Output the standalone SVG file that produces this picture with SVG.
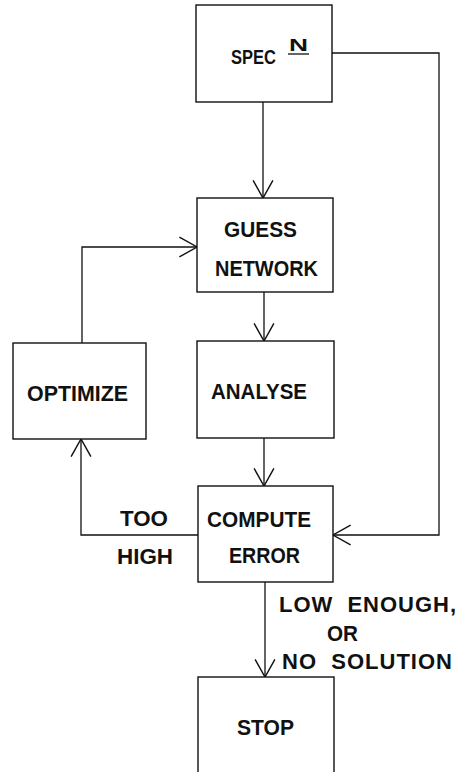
<svg xmlns="http://www.w3.org/2000/svg" width="463" height="772" viewBox="0 0 463 772">
<style>
.box{fill:#fff;stroke:#111;stroke-width:1.4}
.ln{fill:none;stroke:#111;stroke-width:1.3}
text{font-family:"Liberation Sans",Arial,sans-serif;font-weight:bold;font-size:22px;fill:#111}
.big{font-size:20.5px}
.sup{font-size:17px}
</style>
<defs>
<marker id="arr" markerUnits="userSpaceOnUse" markerWidth="20" markerHeight="22" viewBox="-17 -10 18 20" refX="0" refY="0" orient="auto" overflow="visible">
<path d="M-16,-9 L0,0 L-16,9" fill="none" stroke="#111" stroke-width="1.3"/>
</marker>
</defs>
<rect width="463" height="772" fill="#fff"/>
<g id="connectors">
<path class="ln" d="M263,102 V198" marker-end="url(#arr)"/>
<path class="ln" d="M332,53 H439 V535 H333" marker-end="url(#arr)"/>
<path class="ln" d="M264,292 V341" marker-end="url(#arr)"/>
<path class="ln" d="M264,438 V486" marker-end="url(#arr)"/>
<path class="ln" d="M198,535 H81 V439" marker-end="url(#arr)"/>
<path class="ln" d="M82,343 V247 H197" marker-end="url(#arr)"/>
<path class="ln" d="M265,582 V677" marker-end="url(#arr)"/>
</g>
<g id="spec">
<rect class="box" x="196" y="5" width="136" height="97"/>
<text class="big" x="231" y="64" textLength="45" lengthAdjust="spacingAndGlyphs">SPEC</text>
<text class="sup" x="289" y="51" textLength="19" lengthAdjust="spacingAndGlyphs">N</text>
<line class="ln" x1="288" y1="54" x2="309" y2="54"/>
</g>
<g id="guess">
<rect class="box" x="197" y="198" width="136" height="94"/>
<text x="224" y="237" textLength="73" lengthAdjust="spacingAndGlyphs">GUESS</text>
<text x="215" y="276" textLength="103" lengthAdjust="spacingAndGlyphs">NETWORK</text>
</g>
<g id="optimize">
<rect class="box" x="13" y="343" width="133" height="96"/>
<text x="27" y="401" textLength="101" lengthAdjust="spacingAndGlyphs">OPTIMIZE</text>
</g>
<g id="analyse">
<rect class="box" x="197" y="341" width="137" height="97"/>
<text x="211" y="399" textLength="96" lengthAdjust="spacingAndGlyphs">ANALYSE</text>
</g>
<g id="compute">
<rect class="box" x="198" y="486" width="135" height="96"/>
<text x="207" y="527" textLength="104" lengthAdjust="spacingAndGlyphs">COMPUTE</text>
<text x="229" y="563" textLength="71" lengthAdjust="spacingAndGlyphs">ERROR</text>
</g>
<g id="stop">
<rect class="box" x="198" y="677" width="136" height="120"/>
<text x="237" y="735" textLength="57" lengthAdjust="spacingAndGlyphs">STOP</text>
</g>
<g id="labels">
<text x="120" y="526" textLength="48" lengthAdjust="spacingAndGlyphs">TOO</text>
<text x="117" y="564" textLength="56" lengthAdjust="spacingAndGlyphs">HIGH</text>
<text x="279" y="612" textLength="177" lengthAdjust="spacing" xml:space="preserve">LOW  ENOUGH,</text>
<text x="327" y="641" textLength="31" lengthAdjust="spacingAndGlyphs">OR</text>
<text x="282" y="669" textLength="170" lengthAdjust="spacing" xml:space="preserve">NO  SOLUTION</text>
</g>
</svg>
